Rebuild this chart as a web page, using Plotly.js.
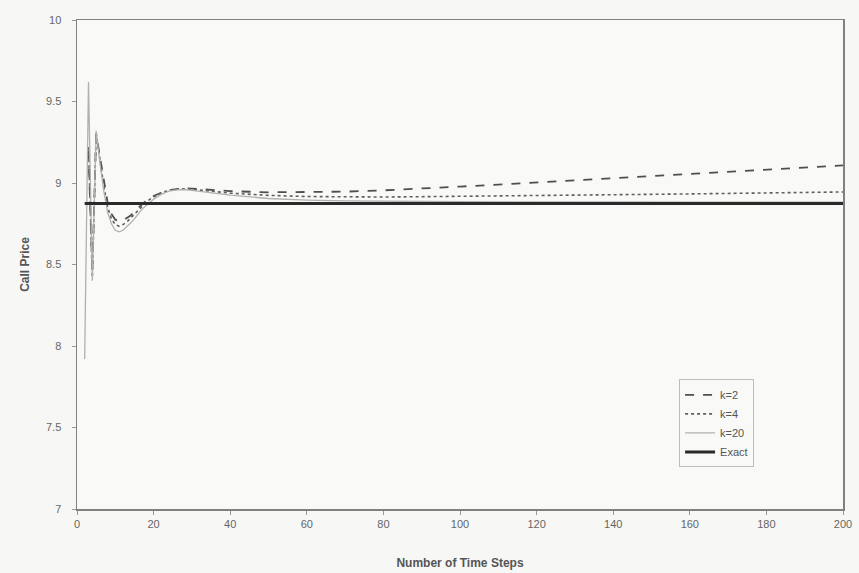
<!DOCTYPE html>
<html>
<head>
<meta charset="utf-8">
<script src="https://cdn.plot.ly/plotly-3.0.1.min.js"></script>
<style>
  html, body { margin: 0; padding: 0; background: #f7f7f5; }
  #chart { width: 859px; height: 573px; }
</style>
</head>
<body>
<div id="chart"></div>
<script>
// Number of time steps
const stepsK2  = [3,4,5,6,7,8,9,10,11,12,13,14,15,16,17,18,19,20,22,24,26,28,30,35,40,50,60,70,80,90,100,110,120,130,140,150,160,170,180,190,200];
const priceK2  = [9.20,8.45,9.30,9.16,9.00,8.88,8.81,8.775,8.765,8.77,8.785,8.80,8.825,8.85,8.87,8.89,8.905,8.92,8.94,8.955,8.963,8.967,8.966,8.958,8.95,8.943,8.943,8.947,8.955,8.965,8.978,8.99,9.003,9.016,9.03,9.045,9.058,9.07,9.083,9.096,9.108];

const stepsK4  = [3,4,5,6,7,8,9,10,11,12,13,14,15,16,17,18,19,20,22,24,26,28,30,35,40,50,60,70,80,90,100,120,140,160,180,200];
const priceK4  = [9.22,8.42,9.31,9.14,8.98,8.85,8.78,8.745,8.735,8.745,8.76,8.785,8.81,8.835,8.86,8.88,8.90,8.915,8.94,8.955,8.963,8.965,8.962,8.95,8.938,8.924,8.917,8.914,8.914,8.916,8.918,8.923,8.928,8.933,8.939,8.945];

const stepsK20 = [2,3,4,5,6,7,8,9,10,11,12,13,14,15,16,17,18,19,20,22,24,26,28,30,35,40,50,60,70,80,100,120,140,160,180,200];
const priceK20 = [7.92,9.62,8.40,9.32,9.12,8.95,8.82,8.75,8.71,8.70,8.71,8.73,8.755,8.78,8.81,8.84,8.86,8.88,8.90,8.93,8.95,8.958,8.96,8.955,8.94,8.925,8.905,8.895,8.89,8.887,8.885,8.884,8.883,8.883,8.882,8.882];

const stepsExact = [2,200];
const priceExact = [8.875,8.875];

const seriesNames = ["k=2","k=4","k=20","Exact"];
const xTicks = [0,20,40,60,80,100,120,140,160,180,200];
const yTicks = [7,7.5,8,8.5,9,9.5,10];

const traces = [
  {x: stepsK2, y: priceK2, name: seriesNames[0], mode: "lines",
   line: {color: "#4f4f4f", width: 1.8, dash: "dash"}},
  {x: stepsK4, y: priceK4, name: seriesNames[1], mode: "lines",
   line: {color: "#5f5f5f", width: 1.6, dash: "dot"}},
  {x: stepsK20, y: priceK20, name: seriesNames[2], mode: "lines",
   line: {color: "#b0b0b0", width: 1.3}},
  {x: stepsExact, y: priceExact, name: seriesNames[3], mode: "lines",
   line: {color: "#2a2a2a", width: 3}}
];

const axisFont = {family: "Liberation Sans, Arial, sans-serif", size: 11, color: "#666"};

const layout = {
  width: 859, height: 573,
  margin: {l: 77, r: 16, t: 20, b: 64},
  paper_bgcolor: "#f7f7f5",
  plot_bgcolor: "#f9f9f7",
  showlegend: true,
  legend: {
    x: 0.786, y: 0.265, xanchor: "left", yanchor: "top",
    bgcolor: "#f9f9f7", bordercolor: "#bdbdbd", borderwidth: 1,
    font: {family: "Liberation Sans, Arial, sans-serif", size: 11, color: "#555"},
    tracegroupgap: 0
  },
  xaxis: {
    range: [0, 200], tickvals: xTicks, ticktext: xTicks.map(String),
    showgrid: false, zeroline: false,
    showline: true, linecolor: "#808080", linewidth: 1.5, mirror: true,
    ticks: "outside", ticklen: 4, tickcolor: "#999",
    tickfont: axisFont,
    title: {text: "<b>Number of Time Steps</b>", standoff: 30,
            font: {family: "Liberation Sans, Arial, sans-serif", size: 12, color: "#555"}}
  },
  yaxis: {
    range: [7, 10], tickvals: yTicks, ticktext: yTicks.map(String),
    showgrid: false, zeroline: false,
    showline: true, linecolor: "#808080", linewidth: 1.5, mirror: true,
    ticks: "outside", ticklen: 4, tickcolor: "#999",
    ticklabelstandoff: 8,
    tickfont: axisFont,
    title: {text: "<b>Call Price</b>", standoff: 14,
            font: {family: "Liberation Sans, Arial, sans-serif", size: 12, color: "#555"}}
  }
};

Plotly.newPlot("chart", traces, layout, {displayModeBar: false, staticPlot: true});
</script>
</body>
</html>
